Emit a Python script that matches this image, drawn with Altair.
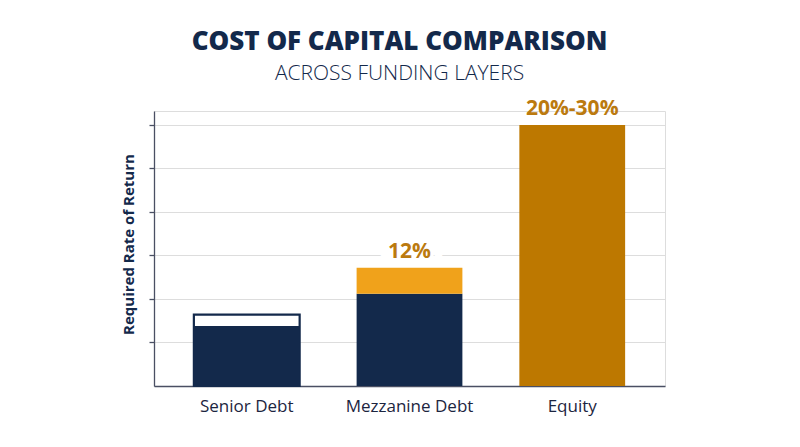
import altair as alt
import pandas as pd

NAVY = "#13294b"
ORANGE = "#f0a21b"
GOLD = "#bd7800"
LABEL_GOLD = "#bb7a0f"
FONT = "Open Sans"

categories = ["Senior Debt", "Mezzanine Debt", "Equity"]

seg_category = ["Senior Debt", "Mezzanine Debt", "Mezzanine Debt", "Equity"]
seg_kind = ["core", "core", "premium", "equity"]
seg_start = [0.0, 0.0, 10.6, 0.0]
seg_end = [6.9, 10.6, 13.6, 30.0]

outline_category = ["Senior Debt"]
outline_end = [8.2]

label_category = ["Mezzanine Debt", "Equity"]
label_value = [13.6, 30.0]
label_text = ["12%", "20%-30%"]
label_halo = [True, False]

tick_values = [5, 10, 15, 20, 25, 30]

segments = pd.DataFrame({"category": seg_category, "kind": seg_kind,
                         "start": seg_start, "end": seg_end})
outline = pd.DataFrame({"category": outline_category, "start": [0.0] * len(outline_end),
                        "end": outline_end})
labels = pd.DataFrame({"category": label_category, "value": label_value,
                       "text": label_text, "halo": label_halo})

x_scale = alt.Scale(domain=categories, paddingInner=0.35, paddingOuter=0.245)
y_scale = alt.Scale(domain=[0, 31.6], nice=False, zero=True)

x_enc = alt.X("category:N", scale=x_scale, sort=categories, title=None,
              axis=alt.Axis(labelFontSize=17, labelColor="#1c2540", labelFont=FONT,
                            labelPadding=12, ticks=False, domainColor="#4a4f63",
                            domainWidth=1.3, labelAngle=0, grid=False))
y_axis = alt.Axis(values=tick_values, labels=False, tickSize=5, tickColor="#4a4f63",
                  tickWidth=1.3, domainColor="#4a4f63", domainWidth=1.3,
                  grid=True, gridColor="#dddddd", gridWidth=1.2,
                  title="Required Rate of Return", titleFont=FONT, titleFontSize=15,
                  titleFontWeight="bold", titleColor=NAVY, titleAngle=270,
                  titleX=-21, titleY=133, titleAlign="center", titleBaseline="alphabetic")

outline_layer = alt.Chart(outline).mark_bar(fill="white", stroke=NAVY, strokeWidth=2.2).encode(
    x=x_enc,
    y=alt.Y("end:Q", scale=y_scale, axis=y_axis),
    y2="start:Q",
)

halo_layer = alt.Chart(labels).transform_filter("datum.halo").mark_text(
    font=FONT, fontSize=21, fontWeight="bold", color="white", stroke="white",
    strokeWidth=24, strokeJoin="round", baseline="middle", dy=-16,
).encode(x=alt.X("category:N", scale=x_scale, sort=categories),
         y=alt.Y("value:Q", scale=y_scale), text="text:N")

seg_layer = alt.Chart(segments).mark_bar().encode(
    x=alt.X("category:N", scale=x_scale, sort=categories),
    y=alt.Y("end:Q", scale=y_scale),
    y2="start:Q",
    color=alt.Color("kind:N", legend=None,
                    scale=alt.Scale(domain=["core", "premium", "equity"],
                                    range=[NAVY, ORANGE, GOLD])),
)

text_layer = alt.Chart(labels).mark_text(
    font=FONT, fontSize=21, fontWeight="bold", color=LABEL_GOLD, baseline="middle", dy=-16,
).encode(x=alt.X("category:N", scale=x_scale, sort=categories),
         y=alt.Y("value:Q", scale=y_scale), text="text:N")

chart = alt.layer(outline_layer, halo_layer, seg_layer, text_layer).properties(
    width=511, height=275,
    autosize=alt.AutoSizeParams(type="none"),
    padding={"left": 146, "top": 103, "right": 127, "bottom": 53},
    title=alt.TitleParams(
        text="COST OF CAPITAL COMPARISON", subtitle="ACROSS FUNDING LAYERS",
        font=FONT, fontSize=26, fontWeight=800, color=NAVY,
        subtitleFont=FONT, subtitleFontSize=21, subtitleFontWeight=300,
        subtitleColor=NAVY, subtitlePadding=8, anchor="middle", offset=14, dx=-10,
    ),
).configure_view(stroke=None).configure(background="white")

chart.save("out.html", embed_options={"renderer": "svg", "actions": False})
